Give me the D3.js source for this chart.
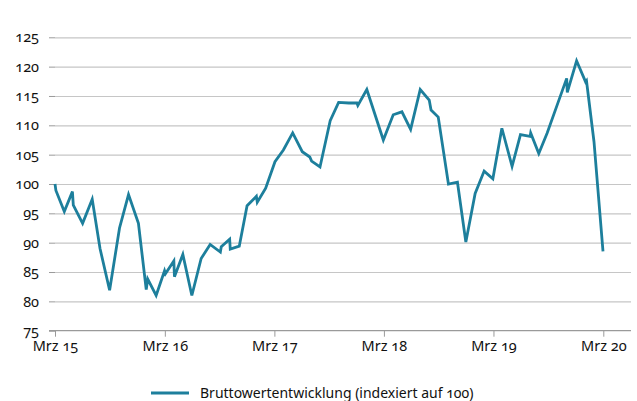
<!DOCTYPE html>
<html>
<head>
<meta charset="utf-8">
<script src="https://cdn.jsdelivr.net/npm/d3@7"></script>
<style>
  body { margin: 0; background: #fff; }
  svg text { font-family: "Noto Sans", sans-serif; fill: #111; font-variant-numeric: oldstyle-nums; font-feature-settings: "onum" 1; }
</style>
</head>
<body>
<div id="chart"></div>
<script>
// Bruttowertentwicklung, indexiert auf 100 (Mrz 2015 = 100)
const dates = [
  "2015-03-01", "2015-03-04", "2015-04-01", "2015-04-28", "2015-05-01", "2015-06-01",
  "2015-07-03", "2015-07-29", "2015-08-30", "2015-10-02", "2015-11-01", "2015-12-04",
  "2015-12-30", "2016-01-04", "2016-02-01", "2016-02-29", "2016-03-03", "2016-03-31",
  "2016-04-02", "2016-04-30", "2016-05-30", "2016-06-30", "2016-07-30", "2016-09-02",
  "2016-09-05", "2016-10-03", "2016-10-05", "2016-11-04", "2016-11-30", "2016-12-31",
  "2017-01-03", "2017-01-31", "2017-03-03", "2017-03-31", "2017-05-01", "2017-06-02",
  "2017-06-27", "2017-07-03", "2017-07-31", "2017-09-03", "2017-10-01", "2017-11-04",
  "2017-12-01", "2017-12-04", "2018-01-03", "2018-02-27", "2018-04-01", "2018-04-30",
  "2018-05-29", "2018-06-30", "2018-07-30", "2018-08-05", "2018-08-29", "2018-10-02",
  "2018-11-01", "2018-11-29", "2018-12-30", "2019-01-29", "2019-02-27", "2019-03-29",
  "2019-05-02", "2019-05-30", "2019-07-01", "2019-07-03", "2019-07-30", "2019-08-27",
  "2019-10-03", "2019-10-31", "2019-11-02", "2019-12-03", "2020-01-02", "2020-01-05",
  "2020-01-30", "2020-02-29"
];
const values = [
  100.0, 98.9, 95.3, 98.7, 96.4, 93.3,
  97.4, 89.0, 81.9, 92.5, 98.2, 93.3,
  82.0, 83.8, 81.0, 85.2, 84.7, 86.9,
  84.2, 88.0, 81.0, 87.3, 89.7, 88.4,
  89.3, 90.6, 88.9, 89.4, 96.3, 97.9,
  96.9, 99.3, 103.8, 105.8, 108.7, 105.5,
  104.6, 103.9, 102.9, 110.8, 113.9, 113.8,
  113.8, 113.4, 116.1, 107.5, 111.8, 112.3,
  109.3, 116.1, 114.3, 112.6, 111.4, 100.0,
  100.3, 90.1, 98.4, 102.2, 100.9, 109.5,
  103.0, 108.4, 108.1, 108.7, 105.2, 108.7,
  114.0, 118.0, 115.6, 121.0, 117.4, 117.6,
  107.2, 88.5
];
const yTicks = [75, 80, 85, 90, 95, 100, 105, 110, 115, 120, 125];
const xTicks = ["2015-03-01", "2016-03-01", "2017-03-01", "2018-03-01", "2019-03-01", "2020-03-01"];
const monthNames = ["Jan", "Feb", "Mrz", "Apr", "Mai", "Jun", "Jul", "Aug", "Sep", "Okt", "Nov", "Dez"];
const seriesName = "Bruttowertentwicklung (indexiert auf 100)";

const width = 637, height = 401;
const parse = d3.timeParse("%Y-%m-%d");
const data = dates.map((d, i) => ({ date: parse(d), value: values[i] }));

const svg = d3.select("#chart").append("svg")
  .attr("width", width)
  .attr("height", height);

const x = d3.scaleTime()
  .domain([parse("2015-03-01"), parse("2020-03-01")])
  .range([55, 603.3]);
const y = d3.scaleLinear()
  .domain([75, 125])
  .range([330.7, 37.3]);

// gridlines + y ticks
const yAxis = svg.append("g")
  .attr("transform", "translate(55,0)")
  .call(d3.axisLeft(y).tickValues(yTicks).tickSize(6).tickPadding(10).tickFormat(d3.format("d")));
yAxis.select(".domain").remove();
yAxis.selectAll(".tick line").attr("stroke", "#9a9a9a");
yAxis.selectAll(".tick text").attr("font-size", 14.5).attr("fill", "#111");
yAxis.selectAll(".tick")
  .filter(d => d !== 75)
  .append("line")
  .attr("x1", 0).attr("x2", 631 - 55)
  .attr("stroke", "#c6c6c6")
  .attr("stroke-width", 1.2);

// x axis
const xAxis = svg.append("g")
  .attr("transform", `translate(0,${y(75)})`)
  .call(d3.axisBottom(x)
    .tickValues(xTicks.map(parse))
    .tickSize(6)
    .tickPadding(4)
    .tickFormat(d => `${monthNames[d.getMonth()]} ${String(d.getFullYear()).slice(2)}`));
xAxis.select(".domain").remove();
xAxis.append("line")
  .attr("x1", 49).attr("x2", 631)
  .attr("stroke", "#9a9a9a")
  .attr("stroke-width", 1.2);
xAxis.selectAll(".tick line").attr("stroke", "#9a9a9a");
xAxis.selectAll(".tick text").attr("font-size", 14.5).attr("fill", "#111");

// line
const line = d3.line()
  .x(d => x(d.date))
  .y(d => y(d.value));

svg.append("path")
  .datum(data)
  .attr("fill", "none")
  .attr("stroke", "#1d7f9c")
  .attr("stroke-width", 2.8)
  .attr("stroke-linejoin", "miter")
  .attr("d", line);

// legend
const legend = svg.append("g").attr("transform", "translate(151,393)");
legend.append("line")
  .attr("x1", 0).attr("x2", 38)
  .attr("stroke", "#1d7f9c")
  .attr("stroke-width", 2.8);
legend.append("text")
  .attr("x", 49)
  .attr("y", 5)
  .attr("font-size", 14)
  .text(seriesName);
</script>
</body>
</html>
